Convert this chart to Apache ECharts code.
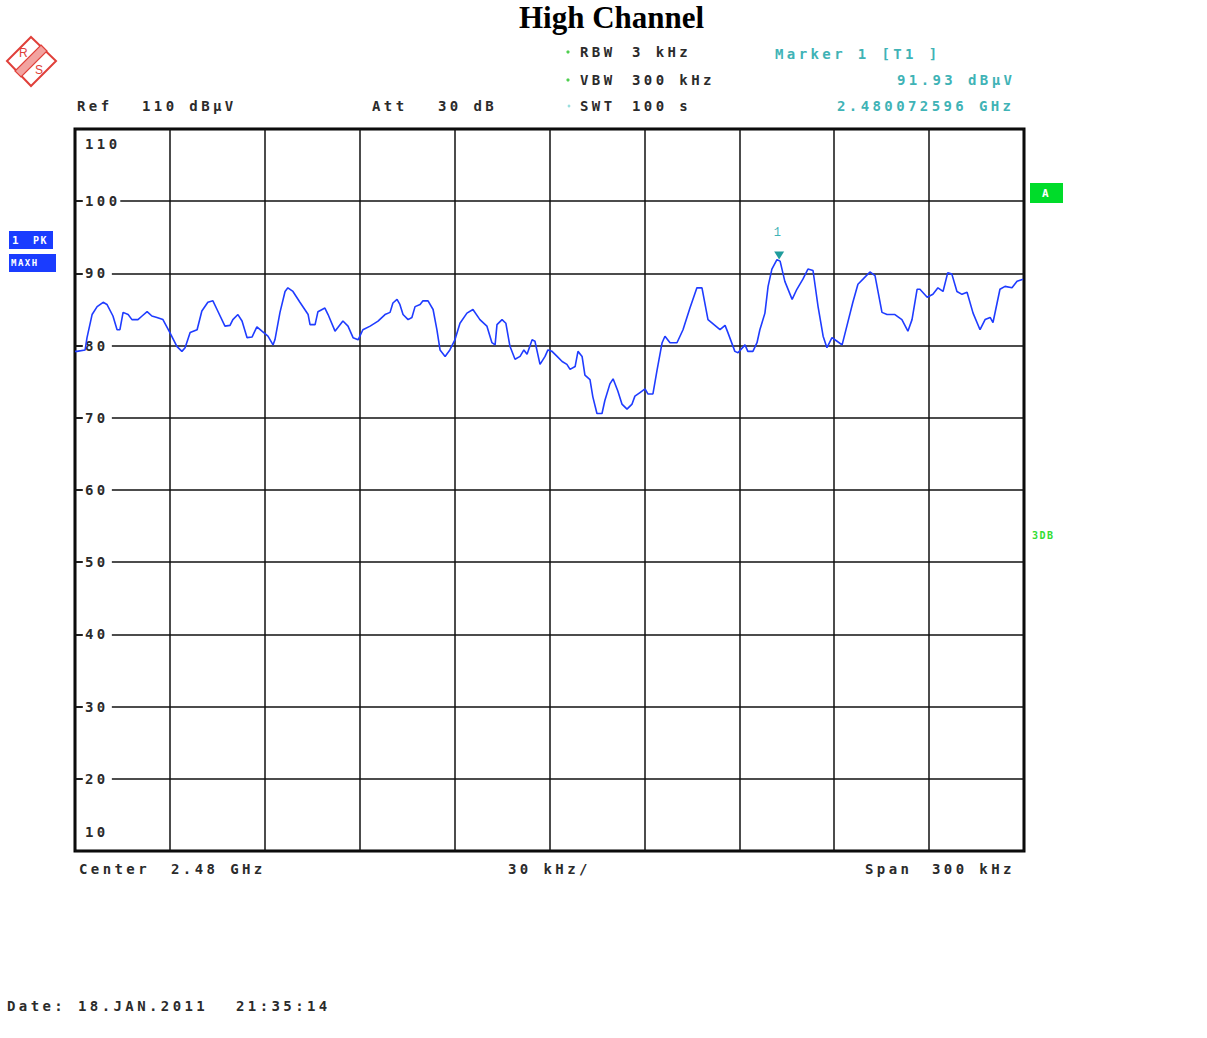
<!DOCTYPE html>
<html><head><meta charset="utf-8">
<script src="https://cdn.jsdelivr.net/npm/echarts@6/dist/echarts.min.js"></script>
<style>
html,body{margin:0;padding:0;background:#fff;}
#c{width:1207px;height:1038px;}
#c text[style*="Mono"]{letter-spacing:3.4px;}
#c text[style*="Mono"][style*=" 9px"],#c text[style*="Mono"][style*=" 10px"],#c text[style*="Mono"][style*=" 11px"]{letter-spacing:1.5px;}
</style></head><body><div id="c"></div>
<script>
// Frequency offset from start of span (kHz, span 300 kHz centred on 2.48 GHz)
const freqKHz = [0,0.6,3.2,3.8,5.4,7.0,8.9,10.1,12.0,13.3,14.2,15.2,16.8,18.0,19.9,21.2,22.8,24.3,25.9,27.8,
30.0,32.2,33.8,34.8,36.4,38.6,40.1,42.0,43.6,44.9,47.4,49.0,49.9,51.5,52.8,54.4,56.0,57.5,59.1,61.0,
62.6,63.2,64.8,66.4,67.3,68.9,71.1,73.7,74.3,75.9,76.8,79.0,80.0,82.2,83.1,84.7,86.3,87.9,89.5,91.0,
93.3,95.8,98.0,99.6,100.5,101.8,102.7,103.7,105.3,106.5,107.5,109.1,110.0,111.6,113.2,114.4,115.4,117.0,118.5,120.1,
121.7,123.9,125.8,128.0,130.2,131.8,132.8,133.4,135.0,136.2,137.5,139.1,140.7,141.9,142.9,144.5,145.4,147.0,148.6,149.5,
150.8,152.4,154.0,155.5,156.5,158.1,159.0,160.3,161.2,162.8,163.7,165.0,166.6,167.5,169.1,170.1,171.6,172.9,174.5,176.1,
177.0,178.6,180.2,181.1,182.7,184.0,185.6,186.5,188.1,190.3,192.2,194.4,196.6,198.2,200.1,203.9,205.5,206.4,208.6,209.6,
211.8,212.7,214.3,215.6,216.5,218.1,219.1,220.3,221.9,222.9,224.4,226.7,228.2,230.1,231.7,233.3,234.9,236.5,237.7,239.3,
240.9,242.5,244.0,245.9,247.5,249.1,251.3,252.9,255.1,256.7,259.2,261.4,263.3,264.6,266.2,267.1,269.4,271.2,272.8,274.4,
275.9,277.2,278.8,280.4,282.0,283.9,286.1,287.7,289.3,290.2,292.4,294.0,296.2,297.8,299.7];
// Level (dBµV)
const levelDbuV = [79.2,79.2,79.4,81.1,84.3,85.4,86.0,85.7,84.1,82.2,82.2,84.6,84.3,83.6,83.6,84.1,84.7,84.1,83.9,83.6,
81.8,79.9,79.2,79.7,81.8,82.2,84.8,86.0,86.2,85.0,82.7,82.8,83.6,84.3,83.4,81.1,81.2,82.6,82.0,81.3,
80.1,80.8,84.6,87.5,88.0,87.5,86.0,84.3,82.9,82.9,84.7,85.2,84.3,82.0,82.5,83.4,82.7,81.1,80.8,82.2,
82.7,83.4,84.3,84.6,85.9,86.4,85.7,84.3,83.6,83.9,85.4,85.7,86.2,86.2,85.0,82.2,79.4,78.5,79.4,80.8,
83.1,84.5,85.0,83.6,82.7,80.4,80.1,82.9,83.6,83.1,79.9,78.1,78.5,79.4,78.8,80.8,80.6,77.4,78.5,79.4,
79.2,78.5,77.8,77.4,76.7,77.1,79.2,78.5,75.9,75.3,72.9,70.6,70.6,72.4,74.7,75.4,73.7,71.9,71.2,71.9,
73.0,73.5,74.0,73.3,73.3,76.6,80.4,81.3,80.4,80.4,82.2,85.2,88.0,88.0,83.6,82.2,82.8,81.8,79.2,79.0,
80.1,79.2,79.2,80.4,82.2,84.5,88.2,90.6,91.9,91.7,88.9,86.4,87.8,89.2,90.6,90.4,85.4,81.3,79.7,81.1,
80.6,80.1,82.7,86.0,88.5,89.2,90.2,89.7,84.6,84.3,84.3,83.6,82.0,83.6,87.8,87.8,86.7,87.1,88.0,87.5,
90.1,89.9,87.5,87.1,87.4,84.5,82.2,83.6,83.9,83.2,87.8,88.2,88.0,88.9,89.2];
const yTicks = [10,20,30,40,50,60,70,80,90,100,110];
const xGridStepKHz = 30;
const markerFreqKHz = 222.6;
const markerLevel = 91.93;

const MONO = 'DejaVu Sans Mono';
const dark = '#2b2b2b';
const teal = '#3fb3b6';
function t(x, y, text, color, size) {
  return {type:'text', x:x, y:y, z:50, style:{text:text, fill:color||dark, fontFamily:MONO, fontWeight:'bold', fontSize:size||14, verticalAlign:'middle', align:'left'}};
}
const lab = {fontFamily:MONO, fontWeight:'bold', fontSize:14, color:dark};

const chart = echarts.init(document.getElementById('c'), null, {renderer:'svg'});
chart.setOption({
  animation:false,
  backgroundColor:'#fff',
  title:{text:'High Channel', left:514, top:-3,
    textStyle:{fontFamily:'Liberation Serif', fontSize:31, fontWeight:'bold', color:'#000'}},
  grid:{left:75, right:183, top:129, bottom:187, show:true, borderColor:'#000', borderWidth:3, backgroundColor:'transparent'},
  xAxis:{type:'value', min:0, max:300, interval:xGridStepKHz,
    axisLine:{show:false}, axisTick:{show:false}, axisLabel:{show:false},
    splitLine:{show:true, lineStyle:{color:'#111', width:1.5}}},
  yAxis:{type:'value', min:yTicks[0], max:yTicks[yTicks.length-1], interval:10,
    axisLine:{show:false},
    axisTick:{show:true, inside:true, length:7, lineStyle:{color:'#111', width:1.5}},
    splitLine:{show:true, lineStyle:{color:'#111', width:1.5}},
    axisLabel:{show:true, inside:true, margin:8, showMinLabel:true, showMaxLabel:true,
      formatter:function(v){
        if (v === yTicks[yTicks.length-1]) return '{t|' + v + '}';
        if (v === yTicks[0]) return '{b|' + v + '}';
        return '{n|' + v + '}';
      },
      rich:{
        n:Object.assign({backgroundColor:'#fff', padding:[1,10,1,2]}, lab),
        t:Object.assign({padding:[30,0,0,2]}, lab),
        b:Object.assign({padding:[0,0,38,2]}, lab)
      }}},
  series:[{
    type:'line', showSymbol:false, z:5,
    data:freqKHz.map((f,i)=>[f, levelDbuV[i]]),
    lineStyle:{color:'#1f3cff', width:1.6},
    markPoint:{
      data:[{coord:[markerFreqKHz, markerLevel]}],
      symbol:'triangle', symbolRotate:180, symbolSize:[10,8], symbolOffset:[0,-4],
      itemStyle:{color:'#1f9c9c'},
      label:{show:true, formatter:'1', position:'top', distance:12, color:teal, fontFamily:'Liberation Mono', fontSize:12}
    }
  }],
  graphic:[
    // R&S logo
    {type:'polygon', shape:{points:[[31,37],[56,61],[31,86],[7,61]]}, style:{fill:'none', stroke:'#e0403a', lineWidth:2}},
    {type:'polygon', shape:{points:[[41,45],[47,51],[21,77],[15,71]]}, style:{fill:'#f2a3a0', stroke:'#e0403a', lineWidth:1.2}},
    {type:'text', x:19, y:53, style:{text:'R', fill:'#e0403a', fontFamily:'Liberation Sans', fontSize:12, verticalAlign:'middle'}},
    {type:'text', x:35, y:70, style:{text:'S', fill:'#e0403a', fontFamily:'Liberation Sans', fontSize:12, verticalAlign:'middle'}},
    // header
    t(77,106,'Ref'), t(142,106,'110 dBµV'),
    t(372,106,'Att'), t(438,106,'30 dB'),
    {type:'circle', shape:{cx:568, cy:52, r:1.6}, style:{fill:'#4fcf4f'}},
    {type:'circle', shape:{cx:568, cy:80, r:1.6}, style:{fill:'#4fcf4f'}},
    {type:'circle', shape:{cx:569, cy:106, r:1.4}, style:{fill:'#9adede'}},
    t(580,52,'RBW'), t(632,52,'3 kHz'),
    t(580,80,'VBW'), t(632,80,'300 kHz'),
    t(580,106,'SWT'), t(632,106,'100 s'),
    t(775,54,'Marker 1 [T1 ]', teal),
    t(897,80,'91.93 dBµV', teal),
    t(837,106,'2.480072596 GHz', teal),
    // left trace boxes
    {type:'rect', shape:{x:9, y:231, width:44, height:18}, style:{fill:'#1a3cff'}},
    t(12,240,'1', '#fff', 11), t(33,240,'PK', '#fff', 10),
    {type:'rect', shape:{x:9, y:254, width:47, height:18}, style:{fill:'#1a3cff'}},
    t(11,263,'MAXH', '#fff', 9),
    // right indicators
    {type:'rect', shape:{x:1030, y:183, width:33, height:20}, style:{fill:'#00dc2a'}},
    t(1042,193,'A', '#fff', 11),
    t(1032,535,'3DB', '#33dd33', 10),
    // footer
    t(79,869,'Center'), t(171,869,'2.48 GHz'),
    t(508,869,'30 kHz/'),
    t(865,869,'Span'), t(932,869,'300 kHz'),
    t(7,1006,'Date:'), t(78,1006,'18.JAN.2011'), t(236,1006,'21:35:14')
  ]
});
</script></body></html>
